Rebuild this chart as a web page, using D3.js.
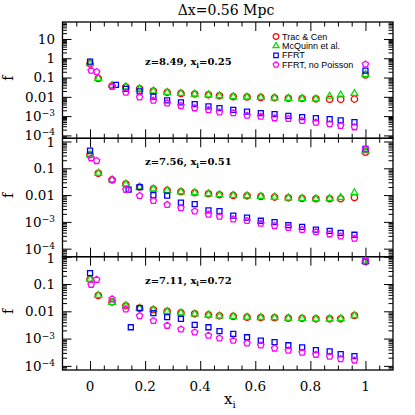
<!DOCTYPE html>
<html>
<head>
<meta charset="utf-8">
<script src="https://cdn.jsdelivr.net/npm/d3@7/dist/d3.min.js"></script>
<style>
  body { margin: 0; background: #fff; }
  text { fill: #000; }
</style>
</head>
<body>
<div id="chart"></div>
<script>
// x positions of the bins
var xBins = [0, 0.03, 0.08, 0.13, 0.18, 0.23, 0.28, 0.33, 0.38, 0.43, 0.47, 0.52, 0.57, 0.62, 0.67, 0.72, 0.77, 0.82, 0.87, 0.91, 0.96, 1];
var xNoPoisson = [0.004, 0.024, 0.08, 0.13, 0.18, 0.23, 0.28, 0.33, 0.38, 0.43, 0.47, 0.52, 0.57, 0.62, 0.67, 0.72, 0.77, 0.82, 0.87, 0.91, 0.96, 1];
var xFFRT1 = [0, 0.094, 0.13, 0.18, 0.23, 0.28, 0.33, 0.38, 0.43, 0.47, 0.52, 0.57, 0.62, 0.67, 0.72, 0.77, 0.82, 0.87, 0.91, 0.96, 1];
var xFFRT2 = [0, 0.14, 0.18, 0.23, 0.28, 0.33, 0.38, 0.43, 0.47, 0.52, 0.57, 0.62, 0.67, 0.72, 0.77, 0.82, 0.87, 0.91, 0.96, 1];
var xFFRT3 = [0, 0.148, 0.18, 0.23, 0.28, 0.33, 0.38, 0.43, 0.47, 0.52, 0.57, 0.62, 0.67, 0.72, 0.77, 0.82, 0.87, 0.91, 0.96, 1];

// panel 1: z=8.49, xi=0.25
var tracCen1 = [0.51, 0.089, 0.037, 0.032, 0.026, 0.020, 0.017, 0.015, 0.014, 0.0127, 0.0113, 0.0102, 0.0098, 0.0093, 0.0088, 0.0084, 0.0082, 0.0079, 0.0075, 0.0074, 0.0076, 0.137];
var mcquinn1 = [0.55, 0.09, 0.039, 0.033, 0.026, 0.020, 0.017, 0.015, 0.014, 0.0127, 0.0113, 0.0102, 0.0098, 0.0093, 0.0088, 0.0084, 0.0081, 0.0078, 0.0108, 0.0125, 0.0150, 0.145];
var ffrt1 = [0.67, 0.042, 0.026, 0.019, 0.0104, 0.0065, 0.0051, 0.0042, 0.0032, 0.0026, 0.0021, 0.0017, 0.00144, 0.00127, 0.00104, 0.00089, 0.00079, 0.00070, 0.0006, 0.00049, 0.23];
var noPoisson1 = [0.23, 0.20, 0.034, 0.017, 0.0096, 0.0065, 0.0047, 0.0034, 0.0026, 0.0021, 0.0016, 0.00144, 0.00108, 0.00096, 0.00079, 0.00073, 0.00058, 0.00047, 0.00039, 0.00032, 0.00027, 0.49];

// panel 2: z=7.56, xi=0.51
var tracCen2 = [0.32, 0.065, 0.037, 0.026, 0.020, 0.017, 0.015, 0.0133, 0.0122, 0.0112, 0.0103, 0.0097, 0.0094, 0.0089, 0.0084, 0.0079, 0.0075, 0.0073, 0.0073, 0.0073, 0.0081, 0.40];
var mcquinn2 = [0.32, 0.066, 0.037, 0.026, 0.020, 0.017, 0.015, 0.0133, 0.0122, 0.0112, 0.0103, 0.0097, 0.0094, 0.0089, 0.0084, 0.0079, 0.0075, 0.0073, 0.0075, 0.0081, 0.0123, 0.45];
var ffrt2 = [0.46, 0.016, 0.020, 0.010, 0.0095, 0.0052, 0.0046, 0.0027, 0.0025, 0.0017, 0.00145, 0.0011, 0.00098, 0.00075, 0.00065, 0.00051, 0.00046, 0.00039, 0.00033, 0.53];
var noPoisson2 = [0.24, 0.19, 0.037, 0.016, 0.0094, 0.0062, 0.0044, 0.0033, 0.0025, 0.0019, 0.0016, 0.00126, 0.0011, 0.00087, 0.00071, 0.00061, 0.00051, 0.00042, 0.00035, 0.00029, 0.00024, 0.52];

// panel 3: z=7.11, xi=0.72
var tracCen3 = [0.15, 0.038, 0.022, 0.016, 0.013, 0.0114, 0.010, 0.0088, 0.0081, 0.0074, 0.0068, 0.0065, 0.0061, 0.0059, 0.0058, 0.0056, 0.0055, 0.0053, 0.0053, 0.0053, 0.0070, 0.68];
var mcquinn3 = [0.15, 0.038, 0.021, 0.016, 0.013, 0.0114, 0.0098, 0.0087, 0.0080, 0.0073, 0.0068, 0.0065, 0.0061, 0.0059, 0.0058, 0.0056, 0.0055, 0.0053, 0.0053, 0.0054, 0.0070, 0.68];
var ffrt3 = [0.25, 0.0026, 0.013, 0.0086, 0.0061, 0.0053, 0.0032, 0.0026, 0.00187, 0.00148, 0.00112, 0.00085, 0.00074, 0.00057, 0.00048, 0.00038, 0.00034, 0.00027, 0.00023, 0.68];
var noPoisson3 = [0.095, 0.145, 0.028, 0.012, 0.0068, 0.0045, 0.0030, 0.0022, 0.0017, 0.0013, 0.00103, 0.00085, 0.00068, 0.00057, 0.00044, 0.00037, 0.00031, 0.00026, 0.00022, 0.00018, 0.00016, 0.70];

var seriesNames = ["Trac & Cen", "McQuinn et al.", "FFRT", "FFRT, no Poisson"];
var panelZ = ["8.49", "7.56", "7.11"];
var panelXi = ["0.25", "0.51", "0.72"];
var xTicks = [0, 0.2, 0.4, 0.6, 0.8, 1];
var xTickLabels = ["0", "0.2", "0.4", "0.6", "0.8", "1"];
var yTickLabels = [
  { v: 10, t: "10" }, { v: 1, t: "1" }, { v: 0.1, t: "0.1" }, { v: 0.01, t: "0.01" },
  { v: 1e-3, t: "10", sup: "\u22123" }, { v: 1e-4, t: "10", sup: "\u22124" }
];

var panels = [
  { data: [[xBins, tracCen1], [xBins, mcquinn1], [xFFRT1, ffrt1], [xNoPoisson, noPoisson1]] },
  { data: [[xBins, tracCen2], [xBins, mcquinn2], [xFFRT2, ffrt2], [xNoPoisson, noPoisson2]] },
  { data: [[xBins, tracCen3], [xBins, mcquinn3], [xFFRT3, ffrt3], [xNoPoisson, noPoisson3]] }
];

// layout
var left = 62.5, right = 393;
var tops = [22, 138.3, 256.7];
var bottoms = [138.3, 256.7, 370];
var logDomains = [[-4.15, 1.88], [-4.3, 0.12], [-4.15, 0.0]];

var serif = "'DejaVu Serif', serif";

var pentagon = {
  draw: function(ctx, size) {
    var r = Math.sqrt(size) * 0.62;
    for (var k = 0; k < 5; k++) {
      var a = -Math.PI / 2 + k * 2 * Math.PI / 5;
      if (k === 0) ctx.moveTo(r * Math.cos(a), r * Math.sin(a));
      else ctx.lineTo(r * Math.cos(a), r * Math.sin(a));
    }
    ctx.closePath();
  }
};

var styles = [
  { color: "#ff0000", symbol: d3.symbolCircle, size: 32 },
  { color: "#00e000", symbol: d3.symbolTriangle, size: 20 },
  { color: "#0000ff", symbol: d3.symbolSquare, size: 25 },
  { color: "#ff00ff", symbol: pentagon, size: 28 }
];

var svg = d3.select("#chart")
  .append("svg")
  .attr("width", 415)
  .attr("height", 415);

var x = d3.scaleLinear().domain([-0.1, 1.1]).range([left, right]);

var xMinor = d3.range(-0.05, 1.1, 0.05).map(v => +v.toFixed(2)).filter(v => xTicks.indexOf(v) < 0);

panels.forEach(function(p, i) {
  var top = tops[i], bottom = bottoms[i];
  var y = d3.scaleLog()
    .domain([Math.pow(10, logDomains[i][0]), Math.pow(10, logDomains[i][1])])
    .range([bottom, top]);

  var dlo = Math.floor(logDomains[i][0]), dhi = Math.ceil(logDomains[i][1]);
  var yMajor = [], yMinor = [];
  for (var d = dlo; d <= dhi; d++) {
    var b = Math.pow(10, d);
    if (d >= logDomains[i][0] - 1e-9 && d <= logDomains[i][1] + 1e-9) yMajor.push(b);
    for (var k = 2; k < 10; k++) {
      var lv = Math.log10(k * b);
      if (lv > logDomains[i][0] && lv < logDomains[i][1]) yMinor.push(k * b);
    }
  }

  var g = svg.append("g");

  // ticks on all four sides, pointing inward
  g.append("g").attr("transform", `translate(${left},0)`)
    .call(d3.axisLeft(y).tickValues(yMajor).tickSize(-9).tickFormat(""));
  g.append("g").attr("transform", `translate(${left},0)`)
    .call(d3.axisLeft(y).tickValues(yMinor).tickSize(-4.5).tickFormat(""));
  g.append("g").attr("transform", `translate(${right},0)`)
    .call(d3.axisRight(y).tickValues(yMajor).tickSize(-9).tickFormat(""));
  g.append("g").attr("transform", `translate(${right},0)`)
    .call(d3.axisRight(y).tickValues(yMinor).tickSize(-4.5).tickFormat(""));
  g.append("g").attr("transform", `translate(0,${bottom})`)
    .call(d3.axisBottom(x).tickValues(xTicks).tickSize(-9).tickFormat(""));
  g.append("g").attr("transform", `translate(0,${bottom})`)
    .call(d3.axisBottom(x).tickValues(xMinor).tickSize(-4.5).tickFormat(""));
  g.append("g").attr("transform", `translate(0,${top})`)
    .call(d3.axisTop(x).tickValues(xTicks).tickSize(-9).tickFormat(""));
  g.append("g").attr("transform", `translate(0,${top})`)
    .call(d3.axisTop(x).tickValues(xMinor).tickSize(-4.5).tickFormat(""));
  g.selectAll(".domain").remove();
  g.selectAll(".tick line").attr("stroke", "#000").attr("stroke-width", 1);

  g.append("rect")
    .attr("x", left).attr("y", top)
    .attr("width", right - left).attr("height", bottom - top)
    .attr("fill", "none").attr("stroke", "#000").attr("stroke-width", 1.3);

  // y tick labels
  var labs = g.selectAll(".ylab")
    .data(yTickLabels.filter(d => Math.log10(d.v) >= logDomains[i][0] - 1e-9 && Math.log10(d.v) <= logDomains[i][1] + 1e-9))
    .join("text")
    .attr("class", "ylab")
    .attr("x", 55)
    .attr("y", d => y(d.v) - (i > 0 && d.v === 1 ? -1 : 0))
    .attr("dy", "0.36em")
    .attr("text-anchor", "end")
    .attr("font-family", serif)
    .attr("font-size", "13.5px");
  labs.append("tspan").text(d => d.t);
  labs.filter(d => d.sup).append("tspan")
    .attr("font-size", "9px")
    .attr("dy", "-0.55em")
    .text(d => d.sup);

  // y axis label
  g.append("text")
    .attr("transform", `translate(13,${(top + bottom) / 2 - 2}) rotate(-90)`)
    .attr("text-anchor", "middle")
    .attr("font-family", serif)
    .attr("font-size", "14px")
    .text("f");

  // panel annotation
  var ann = g.append("text")
    .attr("x", 145)
    .attr("y", i === 0 ? 65 : top + 27)
    .attr("font-family", serif)
    .attr("font-weight", "bold")
    .attr("font-size", "10px");
  ann.append("tspan").text(`z=${panelZ[i]},  x`);
  ann.append("tspan").attr("font-size", "7px").attr("dy", "2.5").text("i");
  ann.append("tspan").attr("dy", "-2.5").text(`=${panelXi[i]}`);

  // data points
  p.data.forEach(function(s, j) {
    var pts = s[0].map((xv, n) => ({ x: xv, y: s[1][n] }));
    g.append("g").selectAll("path")
      .data(pts)
      .join("path")
      .attr("transform", d => `translate(${x(d.x)},${y(d.y)})`)
      .attr("d", d3.symbol().type(styles[j].symbol).size(styles[j].size))
      .attr("fill", "none")
      .attr("stroke", styles[j].color)
      .attr("stroke-width", 1.3);
  });
});

// x tick labels
svg.append("g").selectAll("text")
  .data(xTicks)
  .join("text")
  .attr("x", d => x(d))
  .attr("y", 391)
  .attr("text-anchor", "middle")
  .attr("font-family", serif)
  .attr("font-size", "13.5px")
  .text((d, n) => xTickLabels[n]);

// x axis label
var xl = svg.append("text")
  .attr("x", 224)
  .attr("y", 404)
  .attr("font-family", serif)
  .attr("font-size", "15px");
xl.append("tspan").text("x");
xl.append("tspan").attr("font-size", "10px").attr("dy", "4").text("i");

// title
svg.append("text")
  .attr("x", 226)
  .attr("y", 15)
  .attr("text-anchor", "middle")
  .attr("font-family", serif)
  .attr("font-size", "14px")
  .text("\u0394x=0.56 Mpc");

// legend
var legend = svg.append("g");
seriesNames.forEach(function(name, j) {
  var ly = 36.5 + j * 9.4;
  legend.append("path")
    .attr("transform", `translate(276,${ly})`)
    .attr("d", d3.symbol().type(styles[j].symbol).size(styles[j].size * 0.8))
    .attr("fill", "none")
    .attr("stroke", styles[j].color)
    .attr("stroke-width", 1.2);
  legend.append("text")
    .attr("x", 282)
    .attr("y", ly)
    .attr("dy", "0.35em")
    .attr("font-family", "'Liberation Sans', Arial, sans-serif")
    .attr("font-size", "9px")
    .text(name);
});
</script>
</body>
</html>
